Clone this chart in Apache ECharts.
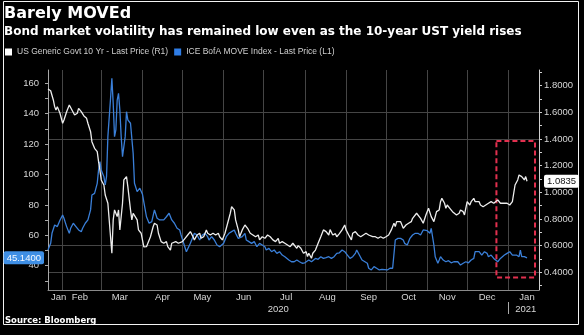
<!DOCTYPE html>
<html>
<head>
<meta charset="utf-8">
<script src="https://cdn.jsdelivr.net/npm/echarts@6/dist/echarts.min.js"></script>
<style>html,body{margin:0;padding:0;background:#000}#c{width:584px;height:335px}</style>
</head>
<body>
<div id="c"></div>
<script>
const titleText = 'Barely MOVEd';
const subtitleText = 'Bond market volatility has remained low even as the 10-year UST yield rises';
const sourceText = 'Source: Bloomberg';
const seriesNames = ['US Generic Govt 10 Yr - Last Price (R1)', 'ICE BofA MOVE Index - Last Price (L1)'];

const axisStart = '2020-01-21';
const axisEnd = '2021-01-24';
const monthLabelDates = ['2020-01-29','2020-02-14','2020-03-15','2020-04-16','2020-05-16','2020-06-16','2020-07-18','2020-08-18','2020-09-18','2020-10-18','2020-11-16','2020-12-16','2021-01-15'];
const monthLabels = ['Jan','Feb','Mar','Apr','May','Jun','Jul','Aug','Sep','Oct','Nov','Dec','Jan'];
const yearLabelDates = ['2020-07-12','2021-01-14'];
const yearLabels = ['2020','2021'];
const yearBreakDate = '2021-01-01';

const moveLabels = [40,60,80,100,120,140,160];
const moveTicks = [30,40,50,60,70,80,90,100,110,120,130,140,150,160];
const yieldLabels = [0.4,0.6,0.8,1.0,1.2,1.4,1.6,1.8];
const yieldTicks = [0.3,0.4,0.5,0.6,0.7,0.8,0.9,1.0,1.1,1.2,1.3,1.4,1.5,1.6,1.7,1.8,1.9];
const yieldGridValues = [0.4,0.6,1.4,1.6];

const highlightDates = ['2020-12-23','2021-01-21'];
const highlightYields = [0.361,1.385];
const lastYield = 1.0835;
const lastMove = 45.14;

const ustDates = ['2020-01-21','2020-01-23','2020-01-25','2020-01-26','2020-01-27','2020-01-28','2020-01-30',
'2020-02-01','2020-02-02','2020-02-04','2020-02-06','2020-02-08','2020-02-10','2020-02-12','2020-02-13','2020-02-15','2020-02-17','2020-02-19','2020-02-20','2020-02-22','2020-02-23','2020-02-25','2020-02-27','2020-02-28','2020-02-29',
'2020-03-01','2020-03-03','2020-03-04','2020-03-05','2020-03-06','2020-03-08','2020-03-09','2020-03-10','2020-03-11','2020-03-13','2020-03-14','2020-03-15','2020-03-17','2020-03-18','2020-03-20','2020-03-21','2020-03-23','2020-03-24','2020-03-25','2020-03-26','2020-03-28','2020-03-29','2020-03-31',
'2020-04-02','2020-04-04','2020-04-07','2020-04-09','2020-04-10','2020-04-12','2020-04-13','2020-04-15','2020-04-17','2020-04-19','2020-04-20','2020-04-22','2020-04-23','2020-04-24','2020-04-26','2020-04-28','2020-04-29',
'2020-05-01','2020-05-03','2020-05-05','2020-05-07','2020-05-09','2020-05-10','2020-05-12','2020-05-14','2020-05-15','2020-05-17','2020-05-19','2020-05-20','2020-05-22','2020-05-24','2020-05-26','2020-05-28','2020-05-29','2020-05-31',
'2020-06-02','2020-06-04','2020-06-06','2020-06-07','2020-06-09','2020-06-10','2020-06-12','2020-06-13','2020-06-15','2020-06-17','2020-06-19','2020-06-21','2020-06-22','2020-06-25','2020-06-27','2020-06-28','2020-06-30',
'2020-07-02','2020-07-04','2020-07-06','2020-07-08','2020-07-10','2020-07-12','2020-07-13','2020-07-15','2020-07-17','2020-07-19','2020-07-21','2020-07-23','2020-07-24','2020-07-26','2020-07-27','2020-07-29','2020-07-31',
'2020-08-02','2020-08-03','2020-08-04','2020-08-06','2020-08-07','2020-08-09','2020-08-11','2020-08-13','2020-08-15','2020-08-17','2020-08-19','2020-08-20','2020-08-22','2020-08-24','2020-08-25','2020-08-27','2020-08-29','2020-08-31',
'2020-09-01','2020-09-03','2020-09-05','2020-09-06','2020-09-08','2020-09-10','2020-09-12','2020-09-14','2020-09-16','2020-09-18','2020-09-19','2020-09-21','2020-09-23','2020-09-25','2020-09-27','2020-09-29',
'2020-10-01','2020-10-03','2020-10-05','2020-10-06','2020-10-07','2020-10-08','2020-10-09','2020-10-10','2020-10-12','2020-10-13','2020-10-14','2020-10-16','2020-10-18','2020-10-20','2020-10-21','2020-10-24','2020-10-25','2020-10-27','2020-10-29','2020-10-31',
'2020-11-02','2020-11-03','2020-11-04','2020-11-06','2020-11-07','2020-11-08','2020-11-10','2020-11-11','2020-11-12','2020-11-14','2020-11-15','2020-11-16','2020-11-18','2020-11-20','2020-11-21','2020-11-23','2020-11-25','2020-11-26','2020-11-28','2020-11-29',
'2020-12-01','2020-12-03','2020-12-04','2020-12-06','2020-12-07','2020-12-08','2020-12-10','2020-12-11','2020-12-13','2020-12-15','2020-12-17','2020-12-19','2020-12-21','2020-12-22','2020-12-24','2020-12-26','2020-12-27','2020-12-29','2020-12-31',
'2021-01-02','2021-01-04','2021-01-05','2021-01-06','2021-01-08','2021-01-09','2021-01-10','2021-01-11','2021-01-12','2021-01-13','2021-01-14','2021-01-15'];
const ustYield = [1.775,1.762,1.693,1.643,1.618,1.643,1.593,
1.518,1.543,1.605,1.655,1.618,1.580,1.593,1.630,1.605,1.573,1.555,1.518,1.455,1.380,1.330,1.305,1.230,1.168,
1.093,1.055,0.980,0.993,0.918,0.667,0.543,0.793,0.868,0.818,0.868,0.718,0.918,1.093,1.118,1.043,0.868,0.793,0.843,0.830,0.793,0.718,0.693,
0.590,0.592,0.667,0.742,0.768,0.755,0.693,0.630,0.618,0.630,0.592,0.567,0.618,0.605,0.630,0.618,0.605,
0.630,0.655,0.680,0.705,0.667,0.643,0.680,0.693,0.655,0.667,0.718,0.693,0.680,0.693,0.680,0.693,0.667,0.643,
0.693,0.768,0.843,0.892,0.868,0.793,0.718,0.667,0.718,0.755,0.730,0.693,0.705,0.667,0.680,0.643,0.667,
0.655,0.680,0.667,0.643,0.630,0.655,0.618,0.630,0.618,0.605,0.592,0.618,0.605,0.580,0.600,0.580,0.543,
0.555,0.518,0.543,0.505,0.543,0.567,0.618,0.667,0.718,0.705,0.680,0.720,0.680,0.690,0.667,0.690,0.718,0.755,
0.718,0.680,0.643,0.693,0.705,0.680,0.667,0.680,0.693,0.680,0.693,0.667,0.667,0.655,0.667,0.655,
0.667,0.680,0.718,0.743,0.768,0.743,0.780,0.793,0.780,0.768,0.730,0.755,0.768,0.780,0.805,0.843,0.855,0.805,0.768,0.830,
0.880,0.892,0.818,0.780,0.818,0.855,0.868,0.930,0.955,0.918,0.880,0.905,0.880,0.855,0.868,0.830,0.843,0.868,0.855,0.830,
0.930,0.905,0.930,0.955,0.930,0.918,0.930,0.905,0.892,0.905,0.918,0.930,0.918,0.930,0.943,0.918,0.930,0.918,0.918,
0.905,0.930,0.993,1.055,1.093,1.130,1.143,1.118,1.130,1.093,1.118,1.0835];

const moveDates = ['2020-01-21','2020-01-23','2020-01-24','2020-01-26','2020-01-28','2020-01-30',
'2020-02-01','2020-02-02','2020-02-04','2020-02-06','2020-02-07','2020-02-09','2020-02-11','2020-02-13','2020-02-15','2020-02-16','2020-02-18','2020-02-20','2020-02-22','2020-02-23','2020-02-25','2020-02-27','2020-02-28','2020-02-29',
'2020-03-01','2020-03-03','2020-03-04','2020-03-05','2020-03-06','2020-03-08','2020-03-09','2020-03-10','2020-03-11','2020-03-12','2020-03-13','2020-03-14','2020-03-15','2020-03-16','2020-03-17','2020-03-19','2020-03-20','2020-03-21','2020-03-23','2020-03-24','2020-03-25','2020-03-26','2020-03-28','2020-03-30',
'2020-04-01','2020-04-02','2020-04-04','2020-04-06','2020-04-08','2020-04-10','2020-04-11','2020-04-12','2020-04-14','2020-04-17','2020-04-19','2020-04-21','2020-04-23','2020-04-25','2020-04-27','2020-04-29','2020-04-30',
'2020-05-02','2020-05-04','2020-05-05','2020-05-07','2020-05-09','2020-05-10','2020-05-12','2020-05-14','2020-05-16','2020-05-18','2020-05-20','2020-05-21','2020-05-23','2020-05-25','2020-05-27','2020-05-29','2020-05-30',
'2020-06-01','2020-06-03','2020-06-05','2020-06-07','2020-06-09','2020-06-10','2020-06-12','2020-06-13','2020-06-15','2020-06-17','2020-06-18','2020-06-20','2020-06-22','2020-06-24','2020-06-26','2020-06-28','2020-06-30',
'2020-07-02','2020-07-03','2020-07-05','2020-07-07','2020-07-09','2020-07-11','2020-07-13','2020-07-15','2020-07-17','2020-07-18','2020-07-20','2020-07-22','2020-07-24','2020-07-26','2020-07-28','2020-07-30',
'2020-08-01','2020-08-02','2020-08-04','2020-08-06','2020-08-07','2020-08-09','2020-08-11','2020-08-13','2020-08-15','2020-08-17','2020-08-19','2020-08-21','2020-08-23','2020-08-25','2020-08-27','2020-08-29','2020-08-31',
'2020-09-02','2020-09-04','2020-09-06','2020-09-08','2020-09-09','2020-09-11','2020-09-13','2020-09-14','2020-09-17','2020-09-18','2020-09-20','2020-09-22','2020-09-24','2020-09-26','2020-09-28','2020-09-29',
'2020-10-02','2020-10-04','2020-10-05','2020-10-06','2020-10-07','2020-10-08','2020-10-10','2020-10-12','2020-10-14','2020-10-15','2020-10-17','2020-10-19','2020-10-21','2020-10-23','2020-10-25','2020-10-27','2020-10-29','2020-10-30',
'2020-11-01','2020-11-02','2020-11-03','2020-11-04','2020-11-05','2020-11-06','2020-11-07','2020-11-09','2020-11-10','2020-11-11','2020-11-13','2020-11-15','2020-11-17','2020-11-19','2020-11-21','2020-11-22','2020-11-24','2020-11-26','2020-11-28','2020-11-30',
'2020-12-02','2020-12-04','2020-12-06','2020-12-07','2020-12-08','2020-12-10','2020-12-12','2020-12-14','2020-12-16','2020-12-17','2020-12-19','2020-12-21','2020-12-22','2020-12-24','2020-12-26','2020-12-27','2020-12-29','2020-12-31',
'2021-01-02','2021-01-04','2021-01-05','2021-01-07','2021-01-09','2021-01-10','2021-01-11','2021-01-13','2021-01-14','2021-01-15'];
const moveIndex = [50.3,54.7,61.3,66.8,65.7,69.9,
73.4,71.2,65.7,61.3,64.6,67.9,65.7,63.5,62.4,64.6,67.9,70.1,76.7,86.5,87.6,94.2,103.0,108.4,
103.0,98.6,93.1,98.6,124.9,150.0,163.3,146.8,124.9,129.3,149.0,153.4,142.4,124.9,111.7,124.9,141.3,135.9,133.7,134.7,113.9,94.2,88.7,91.0,
87.0,82.0,72.2,67.9,69.0,76.7,75.6,71.2,70.1,70.1,72.2,74.5,70.1,67.9,64.6,63.5,60.2,
54.7,49.2,50.3,54.7,59.1,61.3,60.2,56.9,60.2,61.3,59.1,56.9,59.1,56.9,53.6,52.5,51.4,
54.7,59.1,61.3,62.4,63.5,61.3,58.0,57.0,59.1,61.3,56.9,55.8,54.7,55.8,52.5,54.7,53.6,
52.5,50.3,51.4,49.2,50.3,48.1,49.2,47.0,45.9,44.8,43.7,42.6,42.6,43.7,42.6,41.6,
41.9,42.6,43.7,42.6,43.7,44.8,44.2,45.9,44.8,45.3,45.9,44.8,45.9,48.1,48.5,50.3,49.2,
47.0,44.8,45.9,48.1,50.3,47.0,43.7,42.6,41.6,38.3,37.2,39.4,38.3,37.2,37.6,37.2,
37.2,38.3,39.4,38.3,39.4,56.9,58.0,58.0,56.9,54.7,53.6,58.0,60.2,61.3,61.3,60.2,63.5,63.0,
63.0,63.5,61.3,64.6,63.5,53.6,45.9,41.6,43.7,45.9,43.7,42.6,43.3,41.9,42.6,41.6,42.6,40.4,41.6,42.6,
41.9,43.7,44.8,49.2,48.1,49.2,47.0,49.2,48.1,45.9,47.0,44.8,43.7,42.6,44.8,45.9,47.0,48.1,
49.2,47.0,45.9,47.0,45.9,50.3,45.9,45.9,45.5,45.14];

// daily categories for the x axis
const categories = [];
(function () {
  const s = Date.parse(axisStart + 'T00:00:00Z');
  const e = Date.parse(axisEnd + 'T00:00:00Z');
  for (let t = s; t <= e; t += 86400000) categories.push(new Date(t).toISOString().slice(0, 10));
})();

const ustData = ustDates.map((d, i) => [d, ustYield[i]]);
const moveData = moveDates.map((d, i) => [d, moveIndex[i]]);

const labelFont = 'Liberation Sans';
const labelColor = '#d6d6d6';
const gridColor = '#454545';
const yieldMin = 0.2672, yieldMax = 1.9178;

const chart = echarts.init(document.getElementById('c'), null, {renderer: 'canvas'});
chart.setOption({
  backgroundColor: '#000',
  animation: false,
  title: [
    {text: titleText, left: 4, top: 6, padding: 0,
     textStyle: {color: '#fff', fontSize: 16, fontWeight: 'bold', fontFamily: 'DejaVu Sans'}},
    {text: subtitleText, left: 4, top: 26, padding: 0,
     textStyle: {color: '#fff', fontSize: 12, fontWeight: 'bold', fontFamily: 'DejaVu Sans'}},
    {text: sourceText, left: 5, top: 316.5, padding: 0,
     textStyle: {color: '#fff', fontSize: 8.5, fontWeight: 'bold', fontFamily: 'DejaVu Sans'}}
  ],
  legend: {
    left: 5, top: 47.5, padding: 0, itemWidth: 7, itemHeight: 7, itemGap: 6, icon: 'rect',
    data: [seriesNames[0], seriesNames[1]],
    textStyle: {color: '#cfcfcf', fontSize: 8.5, fontFamily: labelFont}
  },
  graphic: [{
    type: 'rect', silent: true,
    shape: {x: 3.5, y: 1.5, width: 575, height: 323},
    style: {fill: null, stroke: '#f2f2f2', lineWidth: 1}
  }],
  grid: {left: 48, right: 45, top: 70, bottom: 45, containLabel: false},
  xAxis: [
    {
      type: 'category', data: categories, boundaryGap: false,
      axisLine: {show: true, lineStyle: {color: '#8a8a8a', width: 1}},
      axisTick: {show: false},
      axisLabel: {
        interval: (i, v) => monthLabelDates.includes(v),
        formatter: v => monthLabels[monthLabelDates.indexOf(v)] || '',
        color: labelColor, fontSize: 9.5, fontFamily: labelFont, margin: 2
      },
      splitLine: {show: true, interval: (i, v) => v.slice(8) === '01', lineStyle: {color: gridColor, width: 1}}
    },
    {
      type: 'category', data: categories, boundaryGap: false, position: 'bottom', offset: 12,
      axisLine: {show: false},
      axisTick: {show: true, interval: (i, v) => v === yearBreakDate, length: 12, lineStyle: {color: '#aaa', width: 1}},
      axisLabel: {
        interval: (i, v) => yearLabelDates.includes(v),
        formatter: v => yearLabels[yearLabelDates.indexOf(v)] || '',
        color: labelColor, fontSize: 9.5, fontFamily: labelFont, margin: 2
      },
      splitLine: {show: false}
    }
  ],
  yAxis: [
    {
      type: 'value', position: 'left', min: 24, max: 168.75,
      axisLine: {show: true, lineStyle: {color: '#a8a8a8', width: 1}},
      axisTick: {show: true, customValues: moveTicks, length: 3, lineStyle: {color: '#a8a8a8'}},
      axisLabel: {customValues: moveLabels, color: labelColor, fontSize: 9.5, fontFamily: labelFont, margin: 9},
      splitLine: {show: false},
      axisPointer: {
        show: true, type: 'line', status: 'show', value: lastMove, triggerTooltip: false,
        lineStyle: {opacity: 0},
        label: {show: true, formatter: p => Number(p.value).toFixed(4), backgroundColor: '#3f8fe5',
          color: '#f5f9ff', fontSize: 9.5, fontFamily: labelFont, padding: [2, 3, 1, 3], borderRadius: 2, margin: 4}
      }
    },
    {
      type: 'value', position: 'right', min: yieldMin, max: yieldMax,
      axisLine: {show: true, lineStyle: {color: '#cfcfcf', width: 1}},
      axisTick: {show: true, customValues: yieldTicks, length: 3, lineStyle: {color: '#cfcfcf'}},
      axisLabel: {customValues: yieldLabels, formatter: v => v.toFixed(4), color: labelColor, fontSize: 9.5, fontFamily: labelFont, margin: 5},
      splitLine: {show: false},
      axisPointer: {
        show: true, type: 'line', status: 'show', value: lastYield, triggerTooltip: false,
        lineStyle: {opacity: 0},
        label: {show: true, formatter: p => Number(p.value).toFixed(4), backgroundColor: '#ffffff',
          color: '#111', fontSize: 9.5, fontFamily: labelFont, padding: [2, 3, 1, 3], borderRadius: 2, margin: 5}
      }
    },
    {
      type: 'value', position: 'right', min: yieldMin, max: yieldMax,
      axisLine: {show: false}, axisLabel: {show: false},
      axisTick: {show: false, customValues: yieldGridValues},
      splitLine: {show: true, lineStyle: {color: gridColor, width: 1}}
    }
  ],
  series: [
    {
      name: seriesNames[1], type: 'line', xAxisIndex: 0, yAxisIndex: 0, data: moveData,
      symbol: 'none', showSymbol: false, smooth: false,
      lineStyle: {color: '#3a7fd8', width: 1.3}, itemStyle: {color: '#2f7de6'}, z: 3
    },
    {
      name: seriesNames[0], type: 'line', xAxisIndex: 0, yAxisIndex: 1, data: ustData,
      symbol: 'none', showSymbol: false, smooth: false,
      lineStyle: {color: '#ededed', width: 1.3}, itemStyle: {color: '#ffffff'}, z: 4,
      markArea: {
        silent: true,
        itemStyle: {color: 'rgba(0,0,0,0)', borderColor: '#e2304f', borderWidth: 2, borderType: [5, 3]},
        data: [[{xAxis: highlightDates[0], yAxis: highlightYields[1]}, {xAxis: highlightDates[1], yAxis: highlightYields[0]}]]
      }
    }
  ]
});
</script>
</body>
</html>
